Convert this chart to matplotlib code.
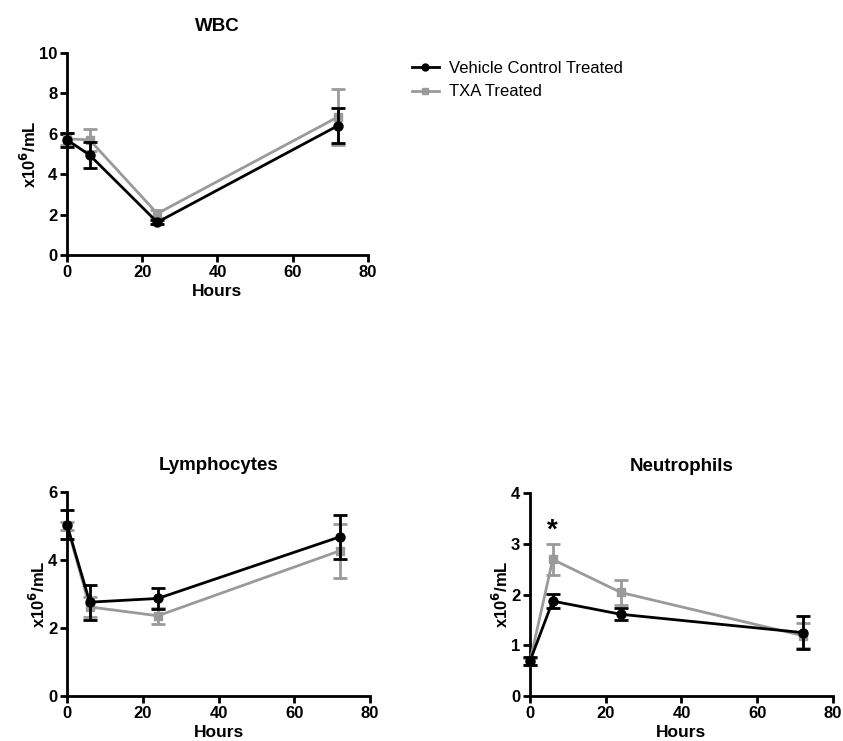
import matplotlib
matplotlib.use("Agg")
import matplotlib.pyplot as plt
from matplotlib.lines import Line2D

hours = [0, 6, 24, 72]

wbc_veh = [5.7, 4.95, 1.62, 6.4]
wbc_veh_err = [0.35, 0.62, 0.1, 0.88]
wbc_txa = [5.75, 5.7, 2.05, 6.83]
wbc_txa_err = [0.3, 0.53, 0.2, 1.37]

lym_veh = [5.04, 2.76, 2.87, 4.68]
lym_veh_err = [0.42, 0.52, 0.31, 0.65]
lym_txa = [5.0, 2.62, 2.36, 4.27]
lym_txa_err = [0.12, 0.3, 0.23, 0.8]

neu_veh = [0.69, 1.87, 1.61, 1.25]
neu_veh_err = [0.08, 0.14, 0.12, 0.32]
neu_txa = [0.68, 2.69, 2.04, 1.19]
neu_txa_err = [0.06, 0.3, 0.24, 0.24]

series_labels = ["Vehicle Control Treated", "TXA Treated"]

FONT = "Liberation Sans"
plt.rcParams['font.family'] = [FONT, 'DejaVu Sans']

fig = plt.figure(figsize=(8.43, 7.41), dpi=100)

BLACK = "#000000"
GRAY = "#9a9a9a"


def panel(rect, title, veh, veh_err, txa, txa_err, ymax, ystep):
    ax = fig.add_axes(rect)
    ax.errorbar(hours, txa, yerr=txa_err, color=GRAY, marker='s', markersize=6,
                linewidth=2, elinewidth=2, capsize=5, capthick=2, clip_on=False,
                zorder=3)
    ax.errorbar(hours, veh, yerr=veh_err, color=BLACK, marker='o', markersize=6.5,
                linewidth=2, elinewidth=2, capsize=5, capthick=2, clip_on=False,
                zorder=4)
    ax.set_xlim(0, 80)
    ax.set_ylim(0, ymax)
    ax.set_xticks([0, 20, 40, 60, 80])
    ax.set_yticks(list(range(0, ymax + 1, ystep)))
    for s in ['top', 'right']:
        ax.spines[s].set_visible(False)
    for s in ['left', 'bottom']:
        ax.spines[s].set_linewidth(2)
    ax.tick_params(direction='out', length=5, width=2, labelsize=12, pad=2)
    for lab in ax.get_xticklabels() + ax.get_yticklabels():
        lab.set_fontweight('bold')
    ax.set_xlabel("Hours", fontsize=12.5, fontweight='bold', labelpad=3)
    ax.set_ylabel(r"x10$^{\mathbf{6}}$/mL", fontsize=12, fontweight='bold', labelpad=0)
    ax.set_title(title, fontsize=13.5, fontweight='bold', pad=16)
    return ax

ax1 = panel([0.0795, 0.6559, 0.357, 0.2726], "WBC", wbc_veh, wbc_veh_err, wbc_txa, wbc_txa_err, 10, 2)
ax2 = panel([0.0795, 0.0607, 0.3594, 0.2753], "Lymphocytes", lym_veh, lym_veh_err, lym_txa, lym_txa_err, 6, 2)
ax3 = panel([0.6287, 0.0607, 0.3594, 0.274], "Neutrophils", neu_veh, neu_veh_err, neu_txa, neu_txa_err, 4, 1)

ax3.text(6, 3.25, "*", fontsize=20, fontweight='bold', ha='center', va='center')

handles = [Line2D([], [], color=BLACK, marker='o', markersize=5, linewidth=2),
           Line2D([], [], color=GRAY, marker='s', markersize=5, linewidth=2)]
fig.legend(handles, series_labels, loc='upper left', bbox_to_anchor=(397 / 843, 1 - 46 / 741),
           frameon=False, fontsize=12, handlelength=1.6, handletextpad=0.6, labelspacing=0.5)

fig.savefig("out.png", dpi=100)
